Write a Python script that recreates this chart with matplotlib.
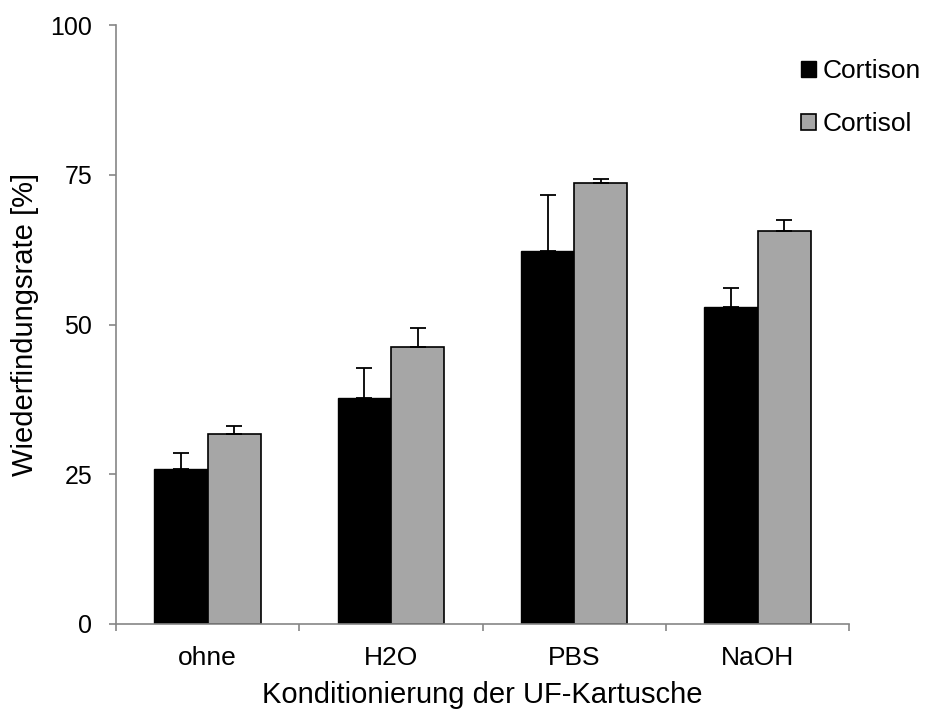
import matplotlib.pyplot as plt
import numpy as np

plt.rcParams['font.family'] = ['Liberation Sans', 'DejaVu Sans']

conditions = ["ohne", "H2O", "PBS", "NaOH"]
cortison = [25.8, 37.7, 62.2, 53.0]
cortison_err = [2.7, 5.0, 9.5, 3.1]
cortisol = [31.8, 46.2, 73.7, 65.6]
cortisol_err = [1.3, 3.2, 0.6, 1.9]

fig = plt.figure(figsize=(9.25, 7.09), dpi=100)
ax = fig.add_axes([0.1254, 0.1199, 0.7926, 0.8448])

x = np.arange(len(conditions))
w = 0.29
err_kw = dict(ecolor="black", elinewidth=1.3, capsize=6, capthick=1.3)

ax.bar(x - w / 2, cortison, w, color="black", edgecolor="black", linewidth=1,
       yerr=[np.zeros(4), cortison_err], error_kw=err_kw, label="Cortison")
ax.bar(x + w / 2, cortisol, w, color="#a6a6a6", edgecolor="black", linewidth=1.2,
       yerr=[np.zeros(4), cortisol_err], error_kw=err_kw, label="Cortisol")

ax.set_xlim(-0.5, len(conditions) - 0.5)
ax.set_ylim(0, 100)
ax.set_yticks([0, 25, 50, 75, 100])
ax.set_xticks(x)
ax.set_xticklabels(conditions)
# category separators as ticks on the x axis
ax.set_xticks(np.arange(-0.5, len(conditions)), minor=True)
ax.tick_params(axis="x", which="major", length=0, pad=16, labelsize=19)
ax.tick_params(axis="x", which="minor", length=5, width=1.2, color="#868686", direction="out")
ax.tick_params(axis="y", length=5, width=1.2, color="#868686", labelsize=18, pad=12)

for s in ["top", "right"]:
    ax.spines[s].set_visible(False)
for s in ["left", "bottom"]:
    ax.spines[s].set_color("#868686")
    ax.spines[s].set_linewidth(1.2)

ax.set_ylabel("Wiederfindungsrate [%]", fontsize=21, labelpad=8)
ax.set_xlabel("Konditionierung der UF-Kartusche", fontsize=21, labelpad=8)

fig.legend(loc="upper left", bbox_to_anchor=(0.866, 0.9165), frameon=False,
           fontsize=19, handlelength=0.55, handleheight=0.55, handletextpad=0.25,
           labelspacing=1.1, borderpad=0, borderaxespad=0)

fig.savefig("out.png", dpi=100)
